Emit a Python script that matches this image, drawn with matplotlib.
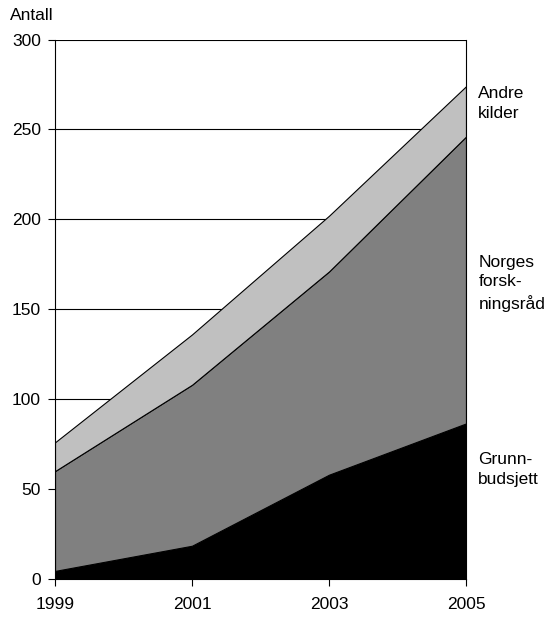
import numpy as np
import matplotlib
matplotlib.use("Agg")
import matplotlib.pyplot as plt

plt.rcParams['font.family'] = ['Liberation Sans', 'DejaVu Sans']

years = [1999, 2001, 2003, 2005]
grunnbudsjett = [4.5, 18.5, 58, 86.5]
forskningsrad = [55.5, 89.5, 113, 159.5]
andre_kilder = [16, 28, 31, 28]

labels = ["Grunn-\nbudsjett", "Norges\nforsk-\nningsråd", "Andre\nkilder"]
colors = ["#000000", "#808080", "#c0c0c0"]

fig = plt.figure(figsize=(5.51, 6.17), dpi=100)
ax = fig.add_axes([55 / 551, 38 / 617, 411 / 551, 539.5 / 617])

# gridlines behind the areas
ax.set_axisbelow(True)
ax.yaxis.grid(True, color='black', linewidth=0.8)

ax.stackplot(years, grunnbudsjett, forskningsrad, andre_kilder,
             colors=colors, edgecolor='black', linewidth=0.8)

ax.set_xlim(1999, 2005)
ax.set_ylim(0, 300)
ax.set_xticks(years)
ax.set_yticks(np.arange(0, 301, 50))
ax.tick_params(direction='out', length=5, width=0.8, labelsize=12.5, color='black')
ax.tick_params(axis='x', pad=8)
ax.tick_params(axis='y', pad=5)

ax.spines['top'].set_visible(False)
for side in ['left', 'bottom', 'right']:
    ax.spines[side].set_linewidth(0.8)

ax.text(-0.109, 1.031, "Antall", transform=ax.transAxes, fontsize=12.5, ha='left', va='bottom')

# series labels on the right
label_y = [61, 164.5, 264.5]
for txt, y in zip(labels, label_y):
    ax.text(1.03, y, txt, transform=ax.get_yaxis_transform(), fontsize=12.5,
            ha='left', va='center', linespacing=1.38)

fig.savefig("out.png", dpi=100)
